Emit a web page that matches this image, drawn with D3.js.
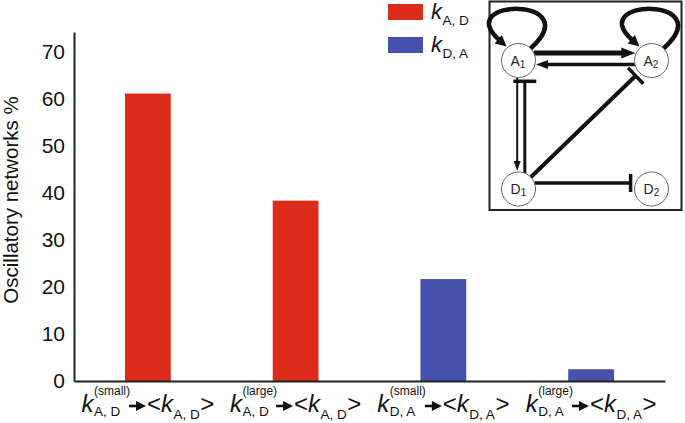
<!DOCTYPE html>
<html>
<head>
<meta charset="utf-8">
<script src="https://cdn.jsdelivr.net/npm/d3@7"></script>
<style>
  body { margin: 0; background: #fff; }
  svg { font-family: "Liberation Sans", Arial, Helvetica, sans-serif; }
</style>
</head>
<body>
<div id="chart-area"></div>
<script>
// bar data
const supLabels = ["small", "large", "small", "large"];
const subLabels = ["A, D", "A, D", "D, A", "D, A"];
const values = [61.2, 38.4, 21.7, 2.5];
const yTicks = [0, 10, 20, 30, 40, 50, 60, 70];

// legend
const seriesNames = ["A, D", "D, A"];
const seriesColors = ["#dc2b1b", "#4650ad"];

// inset network
const nodeNames = ["A", "A", "D", "D"];
const nodeIdx = ["1", "2", "1", "2"];
const nodeCols = [0, 1, 0, 1];
const nodeRows = [0, 0, 1, 1];
const edges = [
  {s: 0, t: 0, kind: "loop", w: 4.5},
  {s: 1, t: 1, kind: "loop", w: 4.5},
  {s: 0, t: 1, kind: "arrow", w: 5, off: -7.5, head: 14, hw: 5.5},
  {s: 1, t: 0, kind: "arrow", w: 3.5, off: -4, head: 12, hw: 4.5},
  {s: 0, t: 2, kind: "arrow", w: 2, off: 1.3, head: 10, hw: 3.5},
  {s: 2, t: 0, kind: "inhibit", w: 3, off: 6.3, bar: 23},
  {s: 2, t: 1, kind: "inhibit", w: 4, off: 0, bar: 22},
  {s: 2, t: 3, kind: "inhibit", w: 3.5, off: -6, bar: 18}
];

const width = 685, height = 423;
const margin = {top: 32, right: 20, bottom: 42, left: 74};

const svg = d3.select("#chart-area").append("svg")
  .attr("width", width)
  .attr("height", height);

const x = d3.scaleBand()
  .domain(d3.range(values.length))
  .range([margin.left, 665])
  .paddingInner(0.69)
  .paddingOuter(0.345);

const y = d3.scaleLinear()
  .domain([0, 74.3])
  .range([height - margin.bottom, margin.top]);

const barColor = i => seriesColors[seriesNames.indexOf(subLabels[i])];

svg.selectAll(".bar")
  .data(values)
  .enter()
  .append("rect")
  .attr("class", "bar")
  .attr("x", (d, i) => x(i))
  .attr("y", d => y(d))
  .attr("width", x.bandwidth())
  .attr("height", d => y(0) - y(d))
  .attr("fill", (d, i) => barColor(i));

// y axis
const yAxis = svg.append("g")
  .attr("transform", `translate(${margin.left},0)`)
  .call(d3.axisLeft(y).tickValues(yTicks).tickSize(0).tickSizeOuter(0).tickPadding(9));
yAxis.select(".domain").attr("stroke", "#222").attr("stroke-width", 2);
yAxis.selectAll("text")
  .attr("font-size", 21)
  .attr("fill", "#111")
  .attr("font-family", "Liberation Sans, Arial, sans-serif");

// x axis (line only, labels are custom)
const xAxis = svg.append("g")
  .attr("transform", `translate(0,${y(0)})`)
  .call(d3.axisBottom(x).tickSize(0).tickSizeOuter(0).tickFormat(""));
xAxis.select(".domain").attr("stroke", "#222").attr("stroke-width", 2);

svg.append("text")
  .attr("transform", "translate(18,200) rotate(-90)")
  .attr("text-anchor", "middle")
  .attr("font-size", 20.5)
  .attr("fill", "#111")
  .text("Oscillatory networks %");

// custom x labels: k^(sup)_sub -> <k_sub>
const txtW = t => t.node().getComputedTextLength();

function buildLabel(g, sup, sub) {
  let cx = 0;
  const k1 = g.append("text").attr("x", cx).attr("y", 0)
    .attr("font-size", 24).attr("font-style", "italic").text("k");
  cx += txtW(k1) + 0.5;
  const s1 = g.append("text").attr("x", cx).attr("y", -17)
    .attr("font-size", 12).text(`(${sup})`);
  const b1 = g.append("text").attr("x", cx).attr("y", 4)
    .attr("font-size", 13.5).text(sub);
  cx += Math.max(txtW(s1), txtW(b1)) - 1;
  // arrow
  g.append("path")
    .attr("d", `M${cx},-6 L${cx + 9},-6`)
    .attr("stroke", "#111").attr("stroke-width", 2.6);
  g.append("path")
    .attr("d", `M${cx + 7},-11 L${cx + 17},-6 L${cx + 7},-1 Z`)
    .attr("fill", "#111");
  cx += 18;
  const lt = g.append("text").attr("x", cx).attr("y", 0)
    .attr("font-size", 24).text("<");
  cx += txtW(lt);
  const k2 = g.append("text").attr("x", cx).attr("y", 0)
    .attr("font-size", 24).attr("font-style", "italic").text("k");
  cx += txtW(k2) + 0.5;
  const b2 = g.append("text").attr("x", cx).attr("y", 7)
    .attr("font-size", 13.5).text(sub);
  cx += txtW(b2) + 0.5;
  const gt = g.append("text").attr("x", cx).attr("y", 0)
    .attr("font-size", 24).text(">");
  cx += txtW(gt);
  g.selectAll("text").attr("fill", "#111");
  return cx;
}

values.forEach((d, i) => {
  const g = svg.append("g");
  const w = buildLabel(g, supLabels[i], subLabels[i]);
  g.attr("transform", `translate(${x(i) + x.bandwidth() / 2 - w / 2},412)`);
});

// legend
seriesNames.forEach((name, i) => {
  const ly = 4 + i * 33;
  svg.append("rect")
    .attr("x", 388).attr("y", ly)
    .attr("width", 35).attr("height", 16)
    .attr("fill", seriesColors[i]);
  const kt = svg.append("text")
    .attr("x", 431).attr("y", ly + 14.5)
    .attr("font-size", 22).attr("font-style", "italic")
    .attr("fill", "#111").text("k");
  svg.append("text")
    .attr("x", 431 + txtW(kt) + 0.5).attr("y", ly + 21)
    .attr("font-size", 13.5).attr("fill", "#111").text(name);
});

// inset network diagram
const inset = svg.append("g");
inset.append("rect")
  .attr("x", 489.5).attr("y", 1.5)
  .attr("width", 192).attr("height", 208.5)
  .attr("fill", "none").attr("stroke", "#222").attr("stroke-width", 2);

const nx = d3.scaleLinear().domain([0, 1]).range([518.5, 651.5]);
const ny = d3.scaleLinear().domain([0, 1]).range([60.5, 189]);
const r = 17;
const pos = i => [nx(nodeCols[i]), ny(nodeRows[i])];

function drawHead(tip, ux, uy, len, hw) {
  const bx = tip[0] - ux * len, by = tip[1] - uy * len;
  inset.append("path")
    .attr("d", `M${tip[0]},${tip[1]} L${bx - uy * hw},${by + ux * hw} L${bx + uy * hw},${by - ux * hw} Z`)
    .attr("fill", "#111");
}

edges.forEach(e => {
  const a = pos(e.s), b = pos(e.t);
  if (e.kind === "loop") {
    const ang1 = -45 * Math.PI / 180, ang2 = -130 * Math.PI / 180;
    const S = [a[0] + r * Math.cos(ang1), a[1] + r * Math.sin(ang1)];
    const E = [a[0] + r * Math.cos(ang2) - 1, a[1] + r * Math.sin(ang2) - 1];
    const C1 = [a[0] + 70, a[1] - 64];
    const C2 = [a[0] - 68, a[1] - 63];
    let ux = E[0] - C2[0], uy = E[1] - C2[1];
    const l = Math.hypot(ux, uy);
    ux /= l; uy /= l;
    const hl = 11;
    const E2 = [E[0] - ux * (hl - 2), E[1] - uy * (hl - 2)];
    inset.append("path")
      .attr("d", `M${S[0]},${S[1]} C${C1[0]},${C1[1]} ${C2[0]},${C2[1]} ${E2[0]},${E2[1]}`)
      .attr("fill", "none").attr("stroke", "#111").attr("stroke-width", e.w);
    drawHead(E, ux, uy, hl, 5.5);
    return;
  }
  let ux = b[0] - a[0], uy = b[1] - a[1];
  const l = Math.hypot(ux, uy);
  ux /= l; uy /= l;
  const px = -uy, py = ux;
  const along = Math.sqrt(r * r - e.off * e.off);
  const S = [a[0] + ux * along + px * e.off, a[1] + uy * along + py * e.off];
  if (e.kind === "arrow") {
    const tip = [b[0] - ux * (along + 1) + px * e.off, b[1] - uy * (along + 1) + py * e.off];
    inset.append("line")
      .attr("x1", S[0]).attr("y1", S[1])
      .attr("x2", tip[0] - ux * (e.head - 2)).attr("y2", tip[1] - uy * (e.head - 2))
      .attr("stroke", "#111").attr("stroke-width", e.w);
    drawHead(tip, ux, uy, e.head, e.hw);
  } else {
    const end = [b[0] - ux * (along + 5) + px * e.off, b[1] - uy * (along + 5) + py * e.off];
    inset.append("line")
      .attr("x1", S[0]).attr("y1", S[1])
      .attr("x2", end[0]).attr("y2", end[1])
      .attr("stroke", "#111").attr("stroke-width", e.w);
    inset.append("line")
      .attr("x1", end[0] - px * e.bar / 2).attr("y1", end[1] - py * e.bar / 2)
      .attr("x2", end[0] + px * e.bar / 2).attr("y2", end[1] + py * e.bar / 2)
      .attr("stroke", "#111").attr("stroke-width", 3.5);
  }
});

nodeNames.forEach((n, i) => {
  const p = pos(i);
  inset.append("circle")
    .attr("cx", p[0]).attr("cy", p[1]).attr("r", r)
    .attr("fill", "#fff").attr("stroke", "#666").attr("stroke-width", 1);
  const t = inset.append("text")
    .attr("x", p[0] - 8).attr("y", p[1] + 5)
    .attr("font-size", 14).attr("fill", "#222").text(n);
  t.append("tspan")
    .attr("font-size", 10).attr("dy", 2).text(nodeIdx[i]);
});
</script>
</body>
</html>
